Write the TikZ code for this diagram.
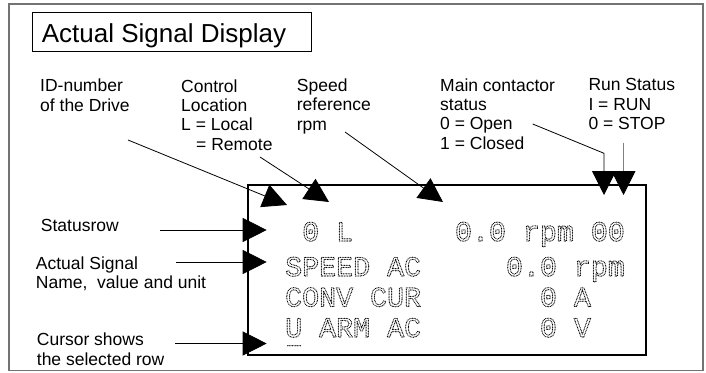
\documentclass[tikz,border=0pt]{standalone}
\usepackage{fontspec}
\setmainfont{Liberation Sans}
\newfontfamily\lcdfont{Liberation Mono}
\usepackage{tikz}
\usetikzlibrary{arrows.meta}
\tikzset{note/.style={font=\fontsize{17.5}{19.3}\selectfont,align=left,inner sep=0pt,anchor=base west}}
\tikzset{lcdrow/.style={font=\lcdfont\fontsize{28.3}{30}\selectfont,inner sep=0pt,anchor=base west}}
\tikzset{pointer/.style={line width=0.8pt,-{Triangle[length=24pt,width=24pt,color=black]}}}
\newcommand{\lcdtext}[1]{\special{x:gsave}\special{pdf:literal direct 1 Tr 1.2 w 1 J [0 1.6] 0 d}#1\special{x:grestore}}

\begin{document}
\begin{tikzpicture}[x=1pt,y=-1pt]
    \useasboundingbox (0,0) rectangle (706,372);
    \draw [black!55,line width=1.3pt] (9,4) rectangle (703,370.5);
    \draw [line width=0.8pt] (32,12) rectangle (311,51);
    \node [anchor=base west,inner sep=0pt,font=\fontsize{26}{28}\selectfont] (title) at (41.7,42.7) {Actual Signal Display};
    \draw [line width=2pt] (248,184.5) rectangle (646,355);
    \node [lcdrow] (row1) at (285,241) {\lcdtext{~0~L~~~~~~0.0~rpm~00}};
    \node [lcdrow] (row2) at (285,276) {\lcdtext{SPEED~AC~~~~~0.0~rpm}};
    \node [lcdrow] (row3) at (285,306.5) {\lcdtext{CONV~CUR~~~~~~~0~A}};
    \node [lcdrow] (row4) at (285,337) {\lcdtext{U~ARM~AC~~~~~~~0~V}};
    \draw [line width=1.2pt,line cap=round,dash pattern=on 0pt off 1.6pt] (287.7,345.7) -- (301.5,345.7);
    \node [note] (idnum) at (40,111) {ID-number\\of the Drive};
    \node [note] (ctrl) at (181,150) {Control\\Location\\L = Local\\\hspace*{15pt}= Remote};
    \node [note] (speed) at (296.7,130) {Speed\\reference\\rpm};
    \node [note] (contactor) at (440,149) {Main contactor\\status\\0 = Open\\1 = Closed};
    \node [note] (run) at (588.3,129.5) {Run Status\\I = RUN\\0 = STOP};
    \node [note] (statusrow) at (40.7,231) {Statusrow};
    \node [note] (signal) at (35.7,288.5) {Actual Signal\\Name,\ \ value and unit};
    \node [note] (cursor) at (36.7,365) {Cursor shows\\the selected row};
    \coordinate (idtail) at (128,140);
    \coordinate (idtip) at (287,205);
    \coordinate (ctrltail) at (260,157);
    \coordinate (ctrltip) at (329,202);
    \coordinate (speedtail) at (345,132);
    \coordinate (speedtip) at (443,202);
    \coordinate (contactortail) at (532.7,124);
    \coordinate (contactorbend) at (604,153.3);
    \coordinate (contactortip) at (604,195);
    \coordinate (runtail) at (623.5,142.7);
    \coordinate (runtip) at (623.5,195);
    \coordinate (statustail) at (160,230);
    \coordinate (statustip) at (266.7,230);
    \coordinate (signaltail) at (176,262);
    \coordinate (signaltip) at (266.7,262);
    \coordinate (cursortail) at (175,343.5);
    \coordinate (cursortip) at (266.7,343.5);
    \draw [pointer] (idtail) -- (idtip);
    \draw [pointer] (ctrltail) -- (ctrltip);
    \draw [pointer] (speedtail) -- (speedtip);
    \draw [pointer] (contactortail) -- (contactorbend) -- (contactortip);
    \draw [pointer,draw=black!50] (runtail) -- (runtip);
    \draw [pointer] (statustail) -- (statustip);
    \draw [pointer] (signaltail) -- (signaltip);
    \draw [pointer] (cursortail) -- (cursortip);
\end{tikzpicture}
\end{document}
